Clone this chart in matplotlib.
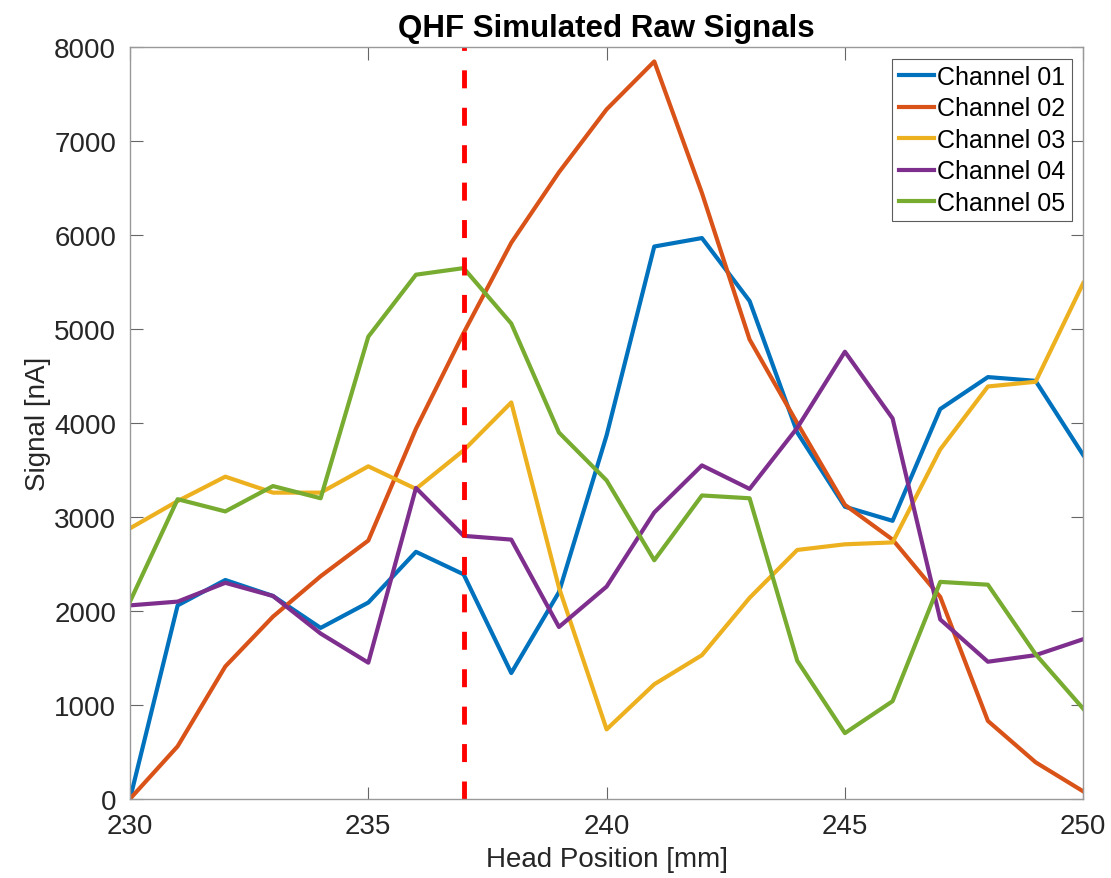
import numpy as np
import matplotlib.pyplot as plt

# Head positions (mm)
position = list(range(230, 251))

# Raw signals (nA)
ch01 = [0, 2060, 2330, 2160, 1820, 2090, 2630, 2390, 1340, 2200, 3870,
        5880, 5970, 5300, 3900, 3110, 2960, 4150, 4490, 4450, 3660]
ch02 = [0, 560, 1410, 1940, 2370, 2750, 3940, 4960, 5920, 6670, 7340,
        7850, 6450, 4890, 4000, 3130, 2760, 2150, 830, 390, 80]
ch03 = [2880, 3170, 3430, 3260, 3260, 3540, 3300, 3710, 4220, 2250, 740,
        1220, 1530, 2140, 2650, 2710, 2730, 3720, 4390, 4440, 5490]
ch04 = [2060, 2100, 2300, 2160, 1760, 1450, 3310, 2800, 2760, 1830, 2260,
        3050, 3550, 3300, 3950, 4760, 4050, 1910, 1460, 1530, 1700]
ch05 = [2100, 3190, 3060, 3330, 3200, 4920, 5580, 5650, 5060, 3900, 3390,
        2540, 3230, 3200, 1470, 700, 1040, 2310, 2280, 1540, 960]

series = [ch01, ch02, ch03, ch04, ch05]
labels = ['Channel 01', 'Channel 02', 'Channel 03', 'Channel 04', 'Channel 05']
colors = ['#0072BD', '#D95319', '#EDB120', '#7E2F8E', '#77AC30']
marker_pos = 237

plt.rcParams['font.family'] = ['Liberation Sans', 'DejaVu Sans']

fig = plt.figure(figsize=(11.11, 8.79), dpi=100)
ax = fig.add_axes([0.117, 0.090, 0.858, 0.855])

for y, lab, c in zip(series, labels, colors):
    ax.plot(position, y, color=c, lw=3.0, label=lab)

# marker line at the position of interest (dashes start from the bottom)
ax.plot([marker_pos, marker_pos], [0, 8000], color='#FF0000', lw=3.5,
        ls=(0, (3.7, 4.0)), solid_capstyle='butt', dash_capstyle='butt')

ax.set_xlim(230, 250)
ax.set_ylim(0, 8000)
ax.set_xticks(range(230, 251, 5))
ax.set_yticks(range(0, 8001, 1000))

ax.set_title('QHF Simulated Raw Signals', fontsize=22.5, fontweight='bold', pad=8)
ax.set_xlabel('Head Position [mm]', fontsize=20, color='#262626', labelpad=5)
ax.set_ylabel('Signal [nA]', fontsize=20, color='#262626', labelpad=2)

for s in ax.spines.values():
    s.set_color('#999999')
    s.set_linewidth(1.0)
ax.tick_params(direction='in', length=9, width=0.8, color='#666666',
               labelsize=20, labelcolor='#262626', top=True, right=True, pad=10)

leg = ax.legend(loc='upper right', fontsize=18, frameon=True, fancybox=False,
                edgecolor='#333333', handlelength=1.4, handletextpad=0.15,
                labelspacing=0.3, borderpad=0.25, borderaxespad=0.45)
leg.get_frame().set_linewidth(0.8)

fig.savefig('out.png', dpi=100)
